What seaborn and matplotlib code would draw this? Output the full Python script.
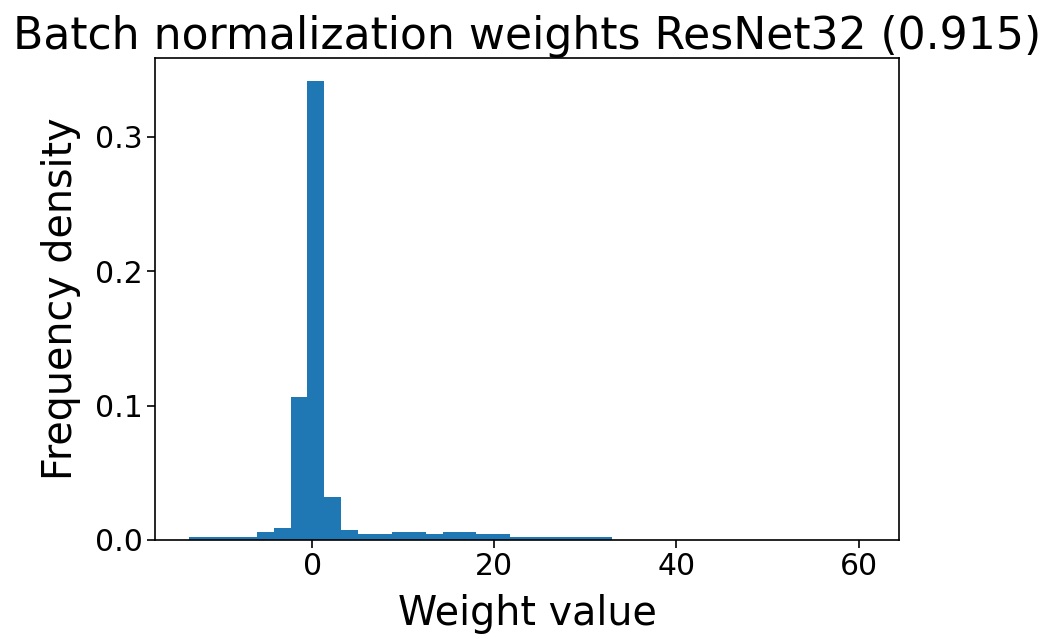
import numpy as np
import matplotlib
matplotlib.use('Agg')
import matplotlib.pyplot as plt
import seaborn as sns
from matplotlib.ticker import MultipleLocator, FormatStrFormatter

# Histogram of batch-norm weights (40 bins)
weight_min = -13.5
weight_max = 60.7
n_bins = 40
density = [0.0025, 0.0025, 0.0025, 0.0025, 0.0057, 0.0091, 0.106, 0.3413,
           0.0322, 0.0072, 0.0042, 0.0042, 0.0057, 0.0057, 0.0042, 0.0057,
           0.0057, 0.0042, 0.0042, 0.0025, 0.0025, 0.0025, 0.0025, 0.0025,
           0.0025, 0, 0, 0, 0, 0, 0, 0, 0, 0, 0, 0, 0, 0, 0, 0.0003]

title = 'Batch normalization weights ResNet32 (0.915)'

# bin centres, one per density value
edges = np.linspace(weight_min, weight_max, n_bins + 1)
centers = (edges[:-1] + edges[1:]) / 2

fig, ax = plt.subplots(figsize=(10.5, 6.39), dpi=100)
fig.subplots_adjust(left=0.148, right=0.856, bottom=0.155, top=0.909)

sns.histplot(x=centers, weights=density, bins=n_bins,
             binrange=(weight_min, weight_max), stat='count',
             color='#1f77b4', alpha=1, linewidth=0, ax=ax)

ax.yaxis.set_major_locator(MultipleLocator(0.1))
ax.yaxis.set_major_formatter(FormatStrFormatter('%.1f'))

ax.set_title(title, fontsize=31.8)
ax.set_xlabel('Weight value', fontsize=28.5, labelpad=9)
ax.set_ylabel('Frequency density', fontsize=28.5, labelpad=10)
ax.tick_params(labelsize=21.5, length=5.5, width=1.2)
for s in ax.spines.values():
    s.set_linewidth(1.2)

fig.savefig('out.png', dpi=100)
